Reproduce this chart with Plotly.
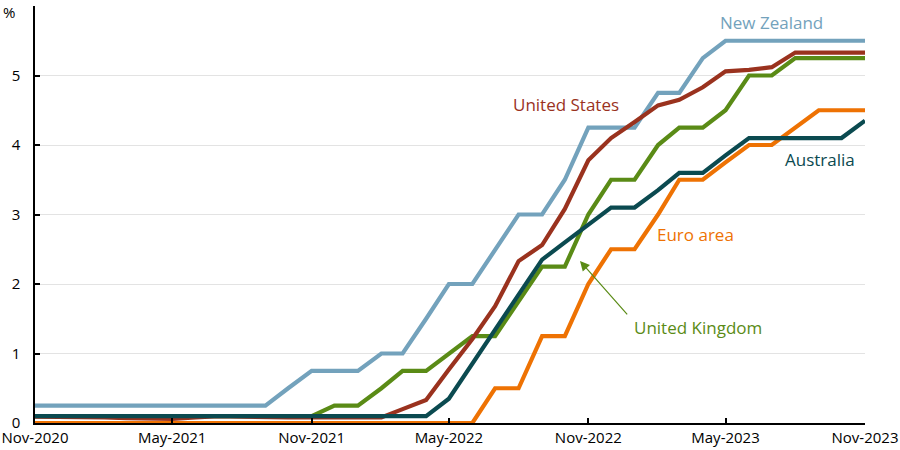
import plotly.graph_objects as go
import pandas as pd

months = pd.date_range("2020-11-01", "2023-11-01", freq="MS")

new_zealand = [0.25]*11 + [0.5, 0.75, 0.75, 0.75, 1.0, 1.0, 1.5, 2.0, 2.0, 2.5, 3.0, 3.0, 3.5,
               4.25, 4.25, 4.25, 4.75, 4.75, 5.25, 5.5, 5.5, 5.5, 5.5, 5.5, 5.5, 5.5]
united_states = [0.09, 0.09, 0.09, 0.08, 0.07, 0.07, 0.06, 0.08, 0.10, 0.09, 0.08, 0.08, 0.08,
                 0.08, 0.08, 0.08, 0.20, 0.33, 0.77, 1.21, 1.68, 2.33, 2.56, 3.08, 3.78, 4.10,
                 4.33, 4.57, 4.65, 4.83, 5.06, 5.08, 5.12, 5.33, 5.33, 5.33, 5.33]
united_kingdom = [0.1]*13 + [0.25, 0.25, 0.5, 0.75, 0.75, 1.0, 1.25, 1.25, 1.75, 2.25, 2.25,
                  3.0, 3.5, 3.5, 4.0, 4.25, 4.25, 4.5, 5.0, 5.0, 5.25, 5.25, 5.25, 5.25]
australia = [0.1]*18 + [0.35, 0.85, 1.35, 1.85, 2.35, 2.6, 2.85, 3.1, 3.1, 3.35, 3.6, 3.6,
                        3.85, 4.1, 4.1, 4.1, 4.1, 4.1, 4.35]
euro_area = [0.0]*20 + [0.5, 0.5, 1.25, 1.25, 2.0, 2.5, 2.5, 3.0, 3.5, 3.5, 3.75, 4.0, 4.0,
                        4.25, 4.5, 4.5, 4.5]

series = [
    ("New Zealand", new_zealand, "#73A2BC"),
    ("Euro area", euro_area, "#EE7203"),
    ("United Kingdom", united_kingdom, "#5A8B16"),
    ("United States", united_states, "#9A321E"),
    ("Australia", australia, "#0B4A50"),
]

fig = go.Figure()
for name, vals, col in series:
    fig.add_trace(go.Scatter(x=months, y=vals, mode="lines", name=name,
                             line=dict(color=col, width=4.2), hoverinfo="skip"))

font = "Open Sans"
labels = [
    ("New Zealand", "2023-07-01", 5.76, "#73A2BC"),
    ("United States", "2022-10-02", 4.58, "#9A321E"),
    ("Australia", "2023-09-02", 3.79, "#0B4A50"),
    ("Euro area", "2023-03-23", 2.71, "#EE7203"),
    ("United Kingdom", "2023-03-26", 1.38, "#5A8B16"),
]
for text, x, y, col in labels:
    fig.add_annotation(x=x, y=y, text=text, showarrow=False,
                       font=dict(family=font, size=17, color=col))

fig.add_annotation(x="2022-10-21", y=2.33, ax="2022-12-24", ay=1.54,
                   xref="x", yref="y", axref="x", ayref="y", text="",
                   showarrow=True, arrowhead=2, arrowsize=1.6, arrowwidth=1.2,
                   arrowcolor="#5A8B16")

fig.add_annotation(x=-0.0217, y=1.0 + 6 / 417, xref="paper", yref="paper", text="%",
                   showarrow=False, xanchor="right", yanchor="top",
                   font=dict(family=font, size=15, color="black"))

fig.update_layout(
    width=900, height=450,
    margin=dict(l=35, r=35, t=6, b=27),
    paper_bgcolor="white", plot_bgcolor="white",
    showlegend=False,
    font=dict(family=font, size=15, color="black"),
)
fig.update_xaxes(
    range=["2020-11-01", "2023-11-01"],
    tickvals=pd.date_range("2020-11-01", "2023-11-01", freq="6MS"),
    tickformat="%b-%Y",
    showline=True, linecolor="black", linewidth=1.5,
    ticks="inside", ticklen=5, tickcolor="black", tickwidth=1.5,
    showgrid=False, zeroline=False, automargin=False,
    tickfont=dict(family=font, size=15, color="black"),
)
fig.update_yaxes(
    range=[0, 6],
    tickvals=[0, 1, 2, 3, 4, 5, 6],
    ticktext=["0", "1", "2", "3", "4", "5", ""],
    showline=True, linecolor="black", linewidth=1.5,
    ticks="inside", ticklen=5, tickcolor="black", tickwidth=1.5,
    showgrid=True, gridcolor="#E3E3E3", gridwidth=1,
    zeroline=False, automargin=False, ticklabelstandoff=10,
    tickfont=dict(family=font, size=15, color="black"),
)

fig.write_html("out.html", config={"displayModeBar": False},
               post_script="document.body.style.margin='0';document.body.style.overflow='hidden';")
